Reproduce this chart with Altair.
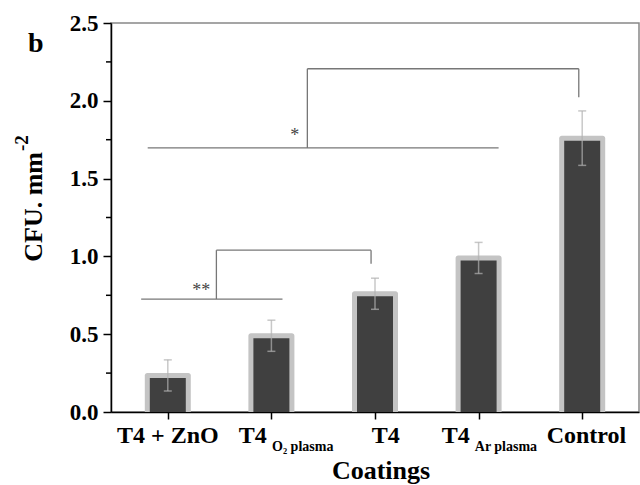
import altair as alt
import pandas as pd

# ---- data ----
categories = ["T4 + ZnO", "T4 O2 plasma", "T4", "T4 Ar plasma", "Control"]
positions = [0, 1, 2, 3, 4]
cfu_mean = [0.235, 0.49, 0.76, 0.99, 1.76]
cfu_err = [0.10, 0.10, 0.10, 0.10, 0.175]

y_major = [0.0, 0.5, 1.0, 1.5, 2.0, 2.5]
y_minor = [0.25, 0.75, 1.25, 1.75, 2.25]

# significance brackets (data units)
seg_x1 = [-0.257, 0.469, 0.469, 1.962, -0.194, 1.347, 1.347, 3.967]
seg_x2 = [1.107, 0.469, 1.962, 1.962, 3.193, 1.347, 3.967, 3.967]
seg_y1 = [0.726, 0.726, 1.040, 1.040, 1.697, 1.697, 2.206, 2.206]
seg_y2 = [0.726, 1.040, 1.040, 0.952, 1.697, 2.206, 2.206, 2.023]

star_text = ["**", "*"]
star_x = [0.324, 1.226]
star_y = [0.747, 1.74]

label_main = ["T4 + ZnO", "T4", "T4", "T4", "Control"]
label_main_x = [-0.49, 0.684, 1.969, 2.644, 3.657]
label_sub = ["O\u2082 plasma", "Ar plasma"]
label_sub_x = [1.006, 2.963]

FONT = "Liberation Serif"

bars_df = pd.DataFrame({"cat": categories, "x": positions, "y": cfu_mean, "err": cfu_err})
seg_df = pd.DataFrame({"x": seg_x1, "x2": seg_x2, "y": seg_y1, "y2": seg_y2})
star_df = pd.DataFrame({"t": star_text, "x": star_x, "y": star_y})
main_df = pd.DataFrame({"t": label_main, "x": label_main_x})
sub_df = pd.DataFrame({"t": label_sub, "x": label_sub_x})
minor_df = pd.DataFrame({"y": y_minor})

x_axis = alt.Axis(values=positions, labels=False, title=None, grid=False, tickSize=7,
                  tickColor="black", tickWidth=1.5, domainColor="black", domainWidth=1.5)
y_axis = alt.Axis(values=y_major, format=".1f", title=None, grid=False, tickSize=8,
                  tickColor="black", tickWidth=1.5, domainColor="black", domainWidth=1.5,
                  labelFont=FONT, labelFontWeight="bold", labelFontSize=23,
                  labelColor="black", labelPadding=5)
x_scale = alt.Scale(domain=[-0.5, 4.5], nice=False, zero=False)
y_scale = alt.Scale(domain=[0, 2.5], nice=False)

X = lambda f="x": alt.X(f"{f}:Q", scale=x_scale, axis=x_axis)
Y = lambda f="y": alt.Y(f"{f}:Q", scale=y_scale, axis=y_axis)

base = alt.Chart(bars_df).transform_calculate(zero="0")

outer = base.mark_bar(size=46, color="#c4c4c4", cornerRadius=2.5, clip=True,
                      yOffset=-2.5, y2Offset=6).encode(x=X(), y=Y(), y2="zero:Q")
inner = base.mark_bar(size=36, color="#404040", clip=True,
                      yOffset=2.5, y2Offset=4).encode(x=X(), y=Y(), y2="zero:Q")

err = base.transform_calculate(lo="datum.y - datum.err", hi="datum.y + datum.err")
err_rule = err.mark_rule(color="#b0b0b0", opacity=0.7, strokeWidth=1.5).encode(
    x=X(), y=Y("lo"), y2="hi:Q")
cap_lo = err.mark_tick(orient="horizontal", size=8, thickness=1.5, color="#b0b0b0",
                       opacity=0.7).encode(x=X(), y=Y("lo"))
cap_hi = err.mark_tick(orient="horizontal", size=8, thickness=1.5, color="#b0b0b0",
                       opacity=0.7).encode(x=X(), y=Y("hi"))

segs = alt.Chart(seg_df).mark_rule(color="#777777", strokeWidth=1.3).encode(
    x=X(), x2="x2:Q", y=Y(), y2="y2:Q")

stars = alt.Chart(star_df).mark_text(font=FONT, fontSize=18, color="#444444",
                                     baseline="alphabetic", align="center").encode(
    x=X(), y=Y(), text="t:N")

minor = alt.Chart(minor_df).mark_rule(color="black", strokeWidth=1.5).encode(
    y=Y(), x=alt.value(-5), x2=alt.value(0))

main_lbl = alt.Chart(main_df).mark_text(font=FONT, fontSize=24, fontWeight="bold",
                                        color="black", align="left",
                                        baseline="alphabetic").encode(
    x=X(), y=alt.value(420), text="t:N")
sub_lbl = alt.Chart(sub_df).mark_text(font=FONT, fontSize=14, fontWeight="bold",
                                      color="black", align="left",
                                      baseline="alphabetic").encode(
    x=X(), y=alt.value(428), text="t:N")

ytitle = alt.Chart(pd.DataFrame({"t": ["CFU. mm"]})).mark_text(
    font=FONT, fontSize=26, fontWeight="bold", color="black", angle=270,
    align="right", baseline="middle").encode(
    x=alt.value(-77), y=alt.value(129), text="t:N")
ysup = alt.Chart(pd.DataFrame({"t": ["-2"]})).mark_text(
    font=FONT, fontSize=19, fontWeight="bold", color="black", angle=270,
    align="left", baseline="middle").encode(
    x=alt.value(-89), y=alt.value(128), text="t:N")
xtitle = alt.Chart(pd.DataFrame({"t": ["Coatings"]})).mark_text(
    font=FONT, fontSize=26, fontWeight="bold", color="black",
    align="center", baseline="alphabetic").encode(
    x=alt.value(270), y=alt.value(456), text="t:N")
panel = alt.Chart(pd.DataFrame({"t": ["b"]})).mark_text(
    font=FONT, fontSize=28, fontWeight="bold", color="black",
    align="left", baseline="alphabetic").encode(
    x=alt.value(-83), y=alt.value(29), text="t:N")

chart = alt.layer(
    outer, inner, err_rule, cap_lo, cap_hi, segs, stars, minor,
    main_lbl, sub_lbl, ytitle, ysup, xtitle, panel
).properties(
    width=528, height=389,
    autosize=alt.AutoSizeParams(type="none"),
    padding={"left": 111, "top": 23, "right": 1, "bottom": 73},
    background="white",
).configure_view(stroke="#888888", strokeWidth=1.5)

chart.save("out.html", embed_options={"renderer": "svg", "actions": False})
